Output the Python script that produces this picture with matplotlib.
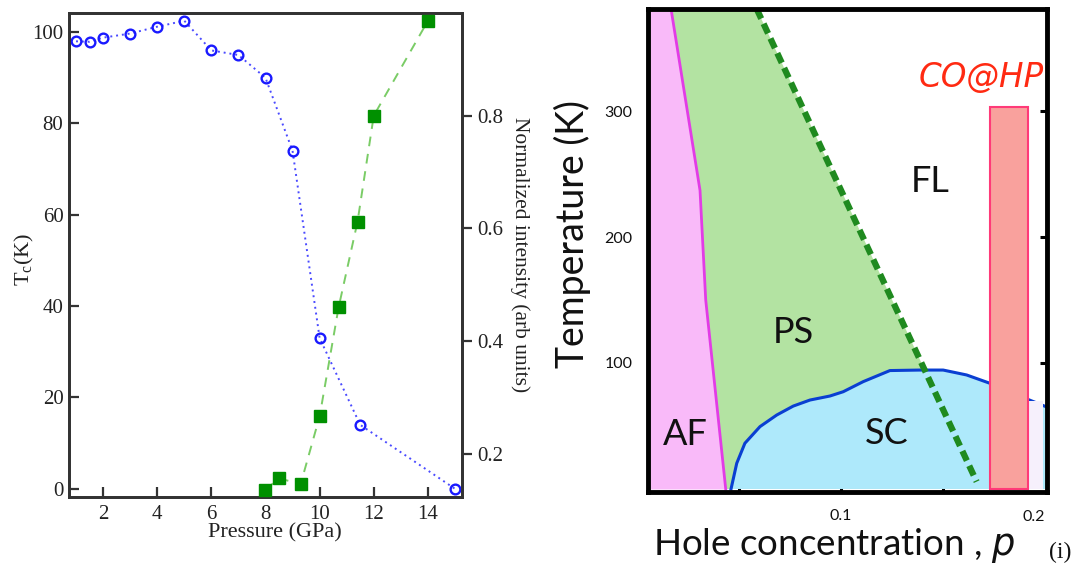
import matplotlib
matplotlib.use("Agg")
import matplotlib.pyplot as plt
import matplotlib.transforms as mtransforms

# ---------------- data: left panel ----------------
pressure_tc = [1.0, 1.5, 2.0, 3.0, 4.0, 5.0, 6.0, 7.0, 8.0, 9.0, 10.0, 11.5, 15.0]
tc_values = [98.0, 97.9, 98.8, 99.7, 101.2, 102.5, 96.0, 95.0, 90.0, 74.0, 33.0, 14.0, 0.0]
pressure_int = [8.0, 8.5, 9.3, 10.0, 10.7, 11.4, 12.0, 14.0]
intensity = [0.137, 0.157, 0.147, 0.267, 0.460, 0.612, 0.800, 0.968]
left_xticks = [2, 4, 6, 8, 10, 12, 14]
left_yticks = [0, 20, 40, 60, 80, 100]
right_yticks = [0.2, 0.4, 0.6, 0.8]

# ---------------- data: right panel (phase diagram) ----------------
af_boundary_x = [0.0167, 0.0309, 0.0337, 0.0435]
af_boundary_y = [381, 237, 150, 0]
ps_line_x = [0.0587, 0.1665]
ps_line_y = [381, 5.8]
ps_line_x_full = [0.0587, 0.1682]
ps_line_y_full = [381, 0]
dome_x = [0.0461, 0.0489, 0.0529, 0.0603, 0.0685, 0.0766, 0.0848, 0.0946, 0.1011,
          0.1109, 0.1240, 0.1387, 0.1501, 0.1616, 0.1730, 0.1850, 0.1918, 0.2010]
dome_y = [0, 20.4, 36.3, 49.5, 58.7, 65.8, 70.6, 73.8, 77.2,
          85.2, 94.0, 94.4, 94.4, 90.5, 83.9, 76.0, 71.0, 65.0]
bar_left = 0.1733
bar_width = 0.0185
bar_height = 303
strip_x = [0.1918, 0.1990]
strip_top = 70
phase_labels = ["AF", "PS", "SC", "FL"]
phase_x = [0.0235, 0.0765, 0.1225, 0.1436]
phase_y = [43, 124, 44, 244]
right_yticks_T = [100, 200, 300]
right_xticks_p = [0.05, 0.1, 0.15]
right_xticklabels_p = ["", "0.1", ""]

W, H = 1087, 573
fig = plt.figure(figsize=(W / 100, H / 100), dpi=100)

serif = ["Liberation Serif", "DejaVu Serif"]
sans = ["Lato", "DejaVu Sans"]

# ---------------- left panel ----------------
ax = fig.add_axes([69 / W, 1 - 497 / H, (462 - 69) / W, (497 - 13) / H])
ax.plot(pressure_tc, tc_values, linestyle=(0, (1, 2)), color="#4a4aff", lw=1.4,
        marker="o", markersize=7, mfc="none", mec="#1a1aff", mew=1.7, zorder=3)
ax.set_xlim(0.74, 15.26)
ax.set_ylim(-1.8, 104.2)
ax.set_xticks(left_xticks)
ax.set_yticks(left_yticks)
ax.tick_params(axis="both", direction="in", length=7, width=1.6, color="#333333",
               labelsize=15, labelcolor="#222222")
ax.tick_params(axis="x", pad=6)
ax.tick_params(axis="y", pad=4)
for lab in ax.get_xticklabels() + ax.get_yticklabels():
    lab.set_fontfamily(serif)
for sp in ax.spines.values():
    sp.set_color("#333333")
    sp.set_linewidth(2)
ax.set_xlabel("Pressure (GPa)", fontsize=16, family=serif, color="#222222")
ax.xaxis.set_label_coords(0.525, -0.074)
ax.xaxis.label.set_va("center")
ax.set_ylabel(r"T$_\mathregular{c}$(K)", fontsize=16, family=serif, color="#222222")
ax.yaxis.set_label_coords(-0.115, 0.49)
ax.yaxis.label.set_va("center")
ax.yaxis.set_label_coords(-0.113, 0.49)

ax2 = ax.twinx()
ax2.plot(pressure_int, intensity, linestyle=(0, (5, 4)), color="#7acc66", lw=1.4, zorder=2)
ax2.plot(pressure_int, intensity, linestyle="none", marker="s", markersize=8,
         mfc="#009000", mec="#009000", zorder=3)
ax2.set_ylim(0.124, 0.982)
ax2.set_yticks(right_yticks)
ax2.set_yticklabels([f"{v:.1f}" for v in right_yticks])
ax2.tick_params(axis="y", direction="out", length=7, width=1.6, color="#333333",
                labelsize=15, labelcolor="#222222", pad=4)
for lab in ax2.get_yticklabels():
    lab.set_fontfamily(serif)
for sp in ax2.spines.values():
    sp.set_color("#333333")
    sp.set_linewidth(2)
ax2.set_ylabel("Normalized intensity (arb units)", fontsize=15.5, family=serif,
               color="#222222", rotation=270)
ax2.yaxis.set_label_coords(1.148, 0.5)
ax2.yaxis.label.set_va("center")

# ---------------- right panel ----------------
bx = fig.add_axes([648 / W, 1 - 492 / H, (1047 - 648) / W, (492 - 9) / H])
bx.set_xlim(0.0054, 0.201)
bx.set_ylim(-2.4, 381)

# PS region (green) between AF boundary and dashed line
poly_x = af_boundary_x + ps_line_x_full[::-1]
poly_y = af_boundary_y + ps_line_y_full[::-1]
bx.fill(poly_x, poly_y, color="#b3e3a2", lw=0, zorder=1)
# AF region
bx.fill_betweenx(af_boundary_y, 0, af_boundary_x, color="#f9baf9", lw=0, zorder=2)
bx.plot(af_boundary_x, af_boundary_y, color="#e23ce6", lw=2, zorder=3)
# SC dome
bx.fill(dome_x + [dome_x[-1]], dome_y + [0], color="#aee9fb", lw=0, zorder=2)
bx.plot(dome_x, dome_y, color="#0a3fd2", lw=2.2, zorder=3)
# faint strip right of the bar
bx.fill_between(strip_x, 0, strip_top, color="#f6f0fc", lw=0, zorder=3)
# dashed PS line
bx.plot(ps_line_x, ps_line_y, color="#1f8a1f", lw=4.5, dashes=(1.7, 0.9), zorder=4)
# CO@HP bar
bx.bar(bar_left, bar_height, width=bar_width, align="edge", color="#f9a19d",
       edgecolor="#ff3a78", linewidth=1.5, zorder=5)
bx.text(0.1685, 327, "CO@HP", color="#ff2a12", fontsize=23.5, style="italic",
        family=["DejaVu Sans"], ha="center", va="center", zorder=6)

for lab, x, y in zip(phase_labels, phase_x, phase_y):
    bx.text(x, y, lab, fontsize=26, family=sans, ha="center", va="center",
            color="#111111", zorder=6)

bx.set_yticks(right_yticks_T)
bx.set_xticks(right_xticks_p)
bx.set_xticklabels(right_xticklabels_p)
bx.tick_params(axis="both", direction="in", length=5, width=2.2, color="black",
               labelsize=11.5, labelcolor="#111111")
bx.tick_params(axis="y", right=True, pad=11)
bx.tick_params(axis="x", pad=12)
for lab in bx.get_xticklabels() + bx.get_yticklabels():
    lab.set_fontfamily(sans)
trans = mtransforms.blended_transform_factory(bx.transData, bx.transAxes)
bx.text(0.1943, -0.052, "0.2", transform=trans, fontsize=11.5, family=sans,
        ha="center", va="center", color="#111111")
for sp in bx.spines.values():
    sp.set_color("black")
    sp.set_linewidth(3.5)
    sp.set_zorder(7)

bx.set_ylabel("Temperature (K)", fontsize=27, family=sans, color="#111111")
bx.yaxis.set_label_coords(-0.19, 0.535)
bx.set_xlabel("Hole concentration , $\\mathit{p}$", fontsize=26.5, family=sans,
              color="#111111")
bx.xaxis.set_label_coords(0.465, -0.11)
bx.xaxis.label.set_va("center")
bx.yaxis.label.set_va("center")

fig.text(1060 / W, 1 - 552 / H, "(i)", fontsize=17, family=serif, ha="center",
         va="center", color="#111111")

fig.savefig("out.png", dpi=100)
